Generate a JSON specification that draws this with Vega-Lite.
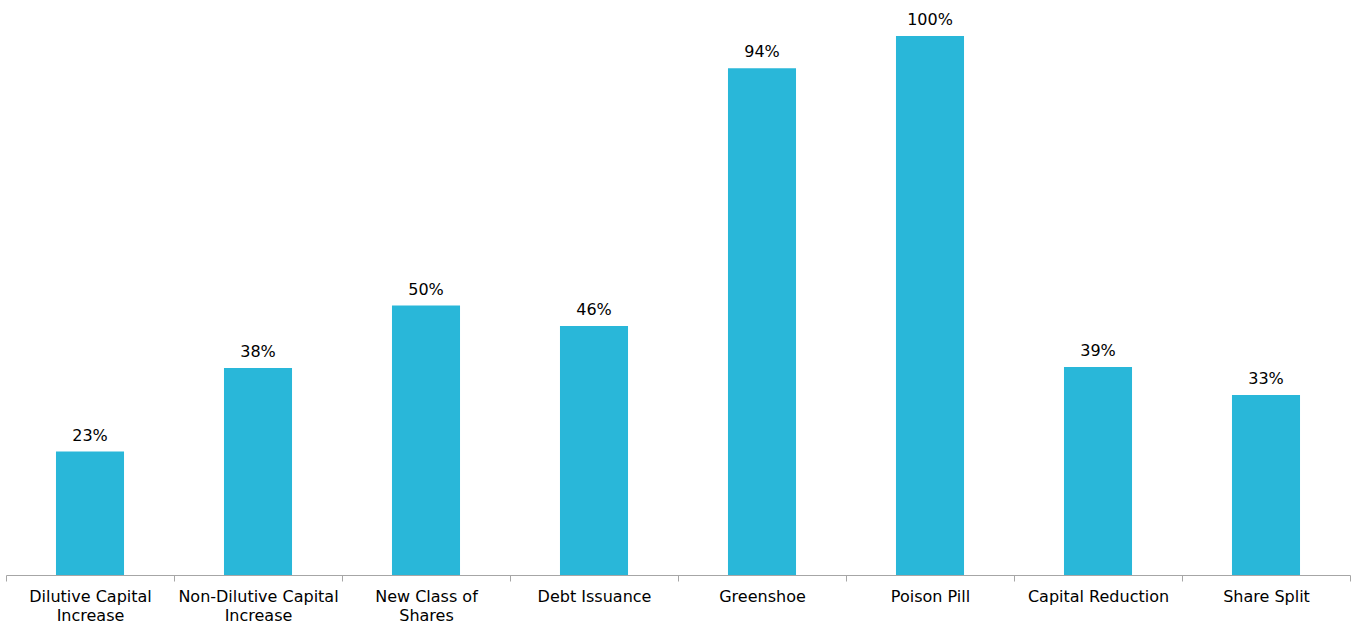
{
  "$schema": "https://vega.github.io/schema/vega-lite/v6.json",
  "width": 1344,
  "height": 575,
  "autosize": {"type": "none"},
  "padding": {"left": 6, "top": 0, "right": 9, "bottom": 50},
  "background": "white",
  "config": {"view": {"stroke": null}, "font": "DejaVu Sans"},
  "data": {"values": [
    {"category": "Dilutive Capital Increase", "value": 0.229},
    {"category": "Non-Dilutive Capital Increase", "value": 0.384},
    {"category": "New Class of Shares", "value": 0.50},
    {"category": "Debt Issuance", "value": 0.462},
    {"category": "Greenshoe", "value": 0.94},
    {"category": "Poison Pill", "value": 1.00},
    {"category": "Capital Reduction", "value": 0.386},
    {"category": "Share Split", "value": 0.334}
  ]},
  "encoding": {
    "x": {
      "field": "category", "type": "nominal", "sort": null,
      "scale": {"paddingInner": 0, "paddingOuter": 0},
      "axis": {
        "title": null, "labelAngle": 0, "labelFontSize": 16, "labelColor": "#000000",
        "labelFont": "DejaVu Sans", "labelPadding": 7, "labelLineHeight": 19,
        "ticks": true, "tickBand": "extent", "tickExtra": true, "tickSize": 6, "tickWidth": 1, "tickColor": "#a6a6a6", "domainColor": "#a6a6a6",
        "labelExpr": "datum.value == 'Dilutive Capital Increase' ? ['Dilutive Capital','Increase'] : datum.value == 'Non-Dilutive Capital Increase' ? ['Non-Dilutive Capital','Increase'] : datum.value == 'New Class of Shares' ? ['New Class of','Shares'] : datum.value"
      }
    },
    "y": {
      "field": "value", "type": "quantitative",
      "scale": {"domain": [0, 1.0668], "nice": false},
      "axis": null
    }
  },
  "layer": [
    {"mark": {"type": "bar", "color": "#29B7D9", "width": {"band": 0.405}}},
    {
      "mark": {"type": "text", "baseline": "bottom", "dy": -8, "fontSize": 16, "color": "#000000", "font": "DejaVu Sans"},
      "encoding": {"text": {"field": "value", "type": "quantitative", "format": ".0%"}}
    }
  ]
}
